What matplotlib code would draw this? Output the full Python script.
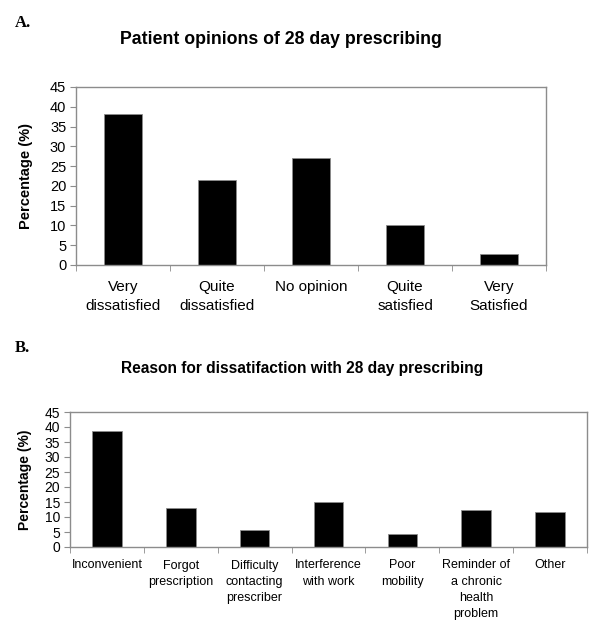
import numpy as np
import matplotlib.pyplot as plt

# -----------------------------
# DATA
# -----------------------------
opinion_labels = ["Very\ndissatisfied", "Quite\ndissatisfied", "No opinion",
                  "Quite\nsatisfied", "Very\nSatisfied"]
opinion_values = [38.3, 21.5, 27.1, 10.2, 2.9]

reason_labels = ["Inconvenient", "Forgot\nprescription", "Difficulty\ncontacting\nprescriber",
                 "Interference\nwith work", "Poor\nmobility",
                 "Reminder of\na chronic\nhealth\nproblem", "Other"]
reason_values = [38.8, 13.1, 5.8, 15.1, 4.5, 12.3, 11.6]

yticks = [0, 5, 10, 15, 20, 25, 30, 35, 40, 45]

W, H = 600, 640
grey = "#8c8c8c"
font = "Liberation Sans"


def ax_rect(x0, y0, x1, y1):
    return [x0 / W, 1 - y1 / H, (x1 - x0) / W, (y1 - y0) / H]


def draw_panel(ax, labels, values, tick_fs, label_fs, ylab_fs, pad, lsp, ylab_x):
    x = np.arange(len(values))
    ax.bar(x, values, width=0.4, color="black", edgecolor=grey, linewidth=0.6)
    ax.set_xlim(-0.5, len(values) - 0.5)
    ax.set_ylim(0, 45)
    ax.set_yticks(yticks)
    ax.set_yticklabels([str(v) for v in yticks], fontsize=tick_fs, family=font)
    ax.set_xticks(x)
    ax.set_xticklabels(labels, fontsize=label_fs, family=font, va="top", linespacing=lsp)
    ax.tick_params(axis="x", length=0, pad=pad)
    ax.set_xticks(np.arange(len(values) + 1) - 0.5, minor=True)
    ax.tick_params(axis="x", which="minor", length=4, color=grey, direction="out")
    ax.tick_params(axis="y", length=4, color=grey, direction="out", pad=3)
    for s in ax.spines.values():
        s.set_color(grey)
        s.set_linewidth(1.0)
    ax.set_ylabel("Percentage (%)", fontsize=ylab_fs, fontweight="bold", family=font)
    ax.yaxis.set_label_coords(ylab_x, 0.5)


fig = plt.figure(figsize=(6, 6.4), dpi=100)

# Panel A
axA = fig.add_axes(ax_rect(76, 87, 546, 265))
draw_panel(axA, opinion_labels, opinion_values, 10.5, 11, 10.5, 11, 1.4, (33 - 76) / 470)
fig.text(15 / W, 1 - 23 / H, "A.", family="Liberation Serif", fontweight="bold",
         fontsize=12, va="center", ha="left")
fig.text(281 / W, 1 - 40 / H, "Patient opinions of 28 day prescribing", family=font,
         fontweight="bold", fontsize=12.8, ha="center", va="center")

# Panel B
axB = fig.add_axes(ax_rect(70, 412, 587, 547))
draw_panel(axB, reason_labels, reason_values, 10, 9, 10, 9, 1.45, (32 - 70) / 517)
fig.text(15 / W, 1 - 348 / H, "B.", family="Liberation Serif", fontweight="bold",
         fontsize=12, va="center", ha="left")
fig.text(302 / W, 1 - 369 / H, "Reason for dissatifaction with 28 day prescribing",
         family=font, fontweight="bold", fontsize=11.2, ha="center", va="center")

fig.savefig("out.png", dpi=100)
